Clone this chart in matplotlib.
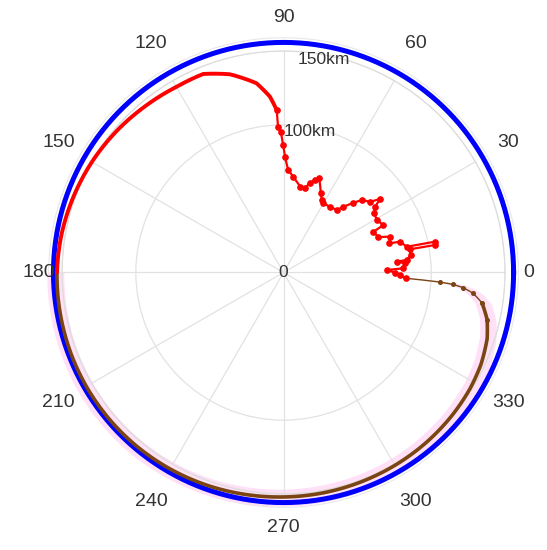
import numpy as np
import matplotlib
matplotlib.use("Agg")
import matplotlib.pyplot as plt
from matplotlib.path import Path
from matplotlib.patches import PathPatch

plt.rcParams['font.family'] = ['Liberation Sans', 'DejaVu Sans']

# ---------------- data ----------------
angle_ticks = [0, 30, 60, 90, 120, 150, 180, 210, 240, 270, 300, 330]
angle_labels = [str(a) for a in angle_ticks]
r_ticks = [100, 150]
r_labels = ["100km", "150km"]
center_label = "0"
r_max = 150
outer_ring_r = 159
blue_r = 155.8

# red trajectory (deg, km), from 180 deg around the top and inward
red_arc_theta = [180, 170, 160, 150, 140, 130, 120, 112, 105.1, 98.1, 94.4, 92.4]
red_arc_r = [153.4, 152.5, 151.2, 149.8, 148.2, 146.5, 145.1, 145.0, 139.0, 129.4, 119.4, 110.1]

red_walk_theta = [92.4, 92.2, 91.1, 90.2, 89.3, 87.5, 84.3, 79.1, 75.7, 73.5, 71.2, 69.4,
                  64.9, 62.2, 60.4, 54.6, 49.4, 47.7, 45.0, 42.7, 39.2, 37.3, 35.7, 33.1,
                  29.4, 25.4, 24.4, 20.4, 18.6, 15.4, 14.8, 11.8, 11.5, 10.3, 10.4, 7.8,
                  5.8, 5.5, 4.3, 2.0, 1.4, -0.1, -1.2, -2.7]
red_walk_r = [110.1, 98.6, 95.4, 86.3, 78.4, 69.5, 65.2, 59.2, 59.0, 63.2, 66.2, 68.4,
              59.4, 55.5, 54.1, 54.4, 55.7, 59.9, 66.6, 72.4, 75.6, 82.1, 76.3, 73.4,
              72.4, 74.9, 66.8, 68.5, 76.1, 74.3, 81.6, 85.2, 104.7, 104.3, 87.1, 86.9,
              83.9, 77.0, 82.5, 81.2, 69.9, 75.5, 78.9, 83.0]

# brown trajectory (deg, km)
brown_theta = [-2.7, -3.5, -4.0, -4.8, -6.2, -8.7, -13, -18, -25, -32, -40, -50, -60,
               -70, -80, -90, -100, -110, -120, -130, -140, -150, -160, -170, -180]
brown_r = [83.0, 106, 115, 122, 129, 136, 141.5, 145, 147.5, 148.8, 149.6, 150.3, 150.8,
           151.2, 151.6, 152.0, 152.5, 153.1, 153.6, 154.0, 154.2, 154.2, 154.0, 153.7, 153.4]

# ---------------- figure ----------------
fig = plt.figure(figsize=(5.47, 5.50), dpi=100)
ax = fig.add_axes([0.1133, 0.1018, 0.810, 0.8055], projection='polar')

d2r = np.deg2rad
text_color = '#333333'
grid_color = '#e2e2e2'
PX_PER_KM = 221.5 / r_max


def polar_line(theta_deg, r, **kw):
    """Line whose segments follow arcs/spirals in polar space."""
    line, = ax.plot(d2r(np.asarray(theta_deg, float)), r, clip_on=False, **kw)
    line.get_path()._interpolation_steps = 40
    return line


# pink uncertainty band along the brown path
bt = np.asarray(brown_theta, float)
br = np.asarray(brown_r, float)
verts = np.concatenate([np.column_stack([d2r(bt), br - 5]),
                        np.column_stack([d2r(bt[::-1]), (br + 6.5)[::-1]])])
verts = np.vstack([verts, verts[:1]])
codes = [Path.MOVETO] + [Path.LINETO] * (len(verts) - 2) + [Path.CLOSEPOLY]
band = PathPatch(Path(verts, codes, _interpolation_steps=30), transform=ax.transData,
                 facecolor='#ffe0f6', edgecolor='none', zorder=1, clip_on=False)
ax.add_patch(band)

# outer circles
th = np.linspace(0, 2 * np.pi, 721)
ax.plot(th, np.full_like(th, blue_r), color='#0000ff', lw=3.6, zorder=3, clip_on=False)
ax.plot(th, np.full_like(th, outer_ring_r), color='#e8e8e8', lw=0.8, zorder=0, clip_on=False)

# brown path
brown_col = '#7a4513'
polar_line(bt[:7], br[:7], color=brown_col, lw=1.0, zorder=4)
ax.plot(d2r(bt[:7]), br[:7], ls='none', marker='o', ms=2.6, color=brown_col, zorder=4)
polar_line(bt[5:], br[5:], color=brown_col, lw=2.6, zorder=4, solid_capstyle='round')

# red path
polar_line(red_arc_theta, red_arc_r, color='#ff0000', lw=2.8, zorder=5,
           solid_capstyle='round')
polar_line(red_walk_theta, red_walk_r, color='#ff0000', lw=1.6, zorder=5)
ax.plot(d2r(np.asarray(red_walk_theta, float)), red_walk_r, ls='none', marker='o',
        ms=3.8, color='#ff0000', zorder=5, clip_on=False)

# axes styling
ax.set_ylim(0, r_max)
ax.set_yticks(r_ticks)
ax.set_yticklabels([])
ax.set_thetagrids(angle_ticks, [''] * len(angle_ticks))
ax.grid(True, color=grid_color, lw=0.9)
ax.spines['polar'].set_color('#dcdcdc')
ax.spines['polar'].set_linewidth(0.9)

# angle labels
for a, lab in zip(angle_ticks, angle_labels):
    t = d2r(a)
    rpx = 245 + 10 * np.sin(t) ** 2 + 14 * abs(np.sin(2 * t))
    ax.text(t, rpx / PX_PER_KM, lab, ha='center', va='center', fontsize=14,
            color=text_color, clip_on=False)

# radial labels
for rv, lab in zip(r_ticks, r_labels):
    ax.text(d2r(79.3), rv - 3, lab, ha='center', va='center', fontsize=12.5,
            color=text_color, zorder=6)
ax.text(0, 0, center_label, ha='center', va='center', fontsize=12.5, color=text_color,
        zorder=6)

fig.savefig('out.png', dpi=100)
